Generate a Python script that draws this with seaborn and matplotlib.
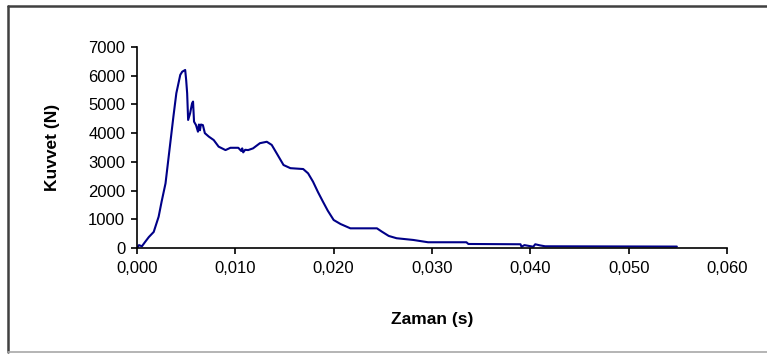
import matplotlib
matplotlib.use("Agg")
import matplotlib.pyplot as plt
from matplotlib.lines import Line2D
import seaborn as sns
import pandas as pd

# Impact force record: time (s) and force (N)
zaman = [0.0000, 0.0002, 0.0005, 0.0008, 0.0012, 0.0017, 0.0022, 0.0025, 0.0029, 0.0033,
         0.0037, 0.0040, 0.0044, 0.0046, 0.0049, 0.0050, 0.0051, 0.0052, 0.0054, 0.0056,
         0.0057, 0.0058, 0.0060, 0.0062, 0.0063, 0.0064, 0.0065, 0.0067, 0.0069, 0.0073,
         0.0078, 0.0083, 0.0090, 0.0095, 0.0103, 0.0106, 0.0107, 0.0108, 0.0110, 0.0113,
         0.0118, 0.0125, 0.0132, 0.0137, 0.0142, 0.0149, 0.0156, 0.0169, 0.0174, 0.0179,
         0.0184, 0.0189, 0.0194, 0.0200, 0.0207, 0.0217, 0.0244, 0.0249, 0.0256, 0.0264,
         0.0281, 0.0296, 0.0335, 0.0337, 0.0390, 0.0391, 0.0394, 0.0403, 0.0405, 0.0410,
         0.0415, 0.0549]
kuvvet = [0, 100, 60, 200, 380, 560, 1090, 1610, 2250, 3410,
          4570, 5390, 6030, 6140, 6200, 5850, 5390, 4460, 4690, 5040,
          5100, 4400, 4280, 4050, 4300, 4100, 4300, 4280, 4000, 3880,
          3760, 3530, 3410, 3490, 3490, 3380, 3470, 3330, 3420, 3410,
          3470, 3650, 3700, 3590, 3300, 2890, 2780, 2750, 2600, 2310,
          1950, 1620, 1300, 975, 835, 685, 685, 570, 420, 340,
          280, 200, 200, 140, 130, 45, 100, 45, 130, 90,
          60, 50]

x_ticks = [0.0, 0.01, 0.02, 0.03, 0.04, 0.05, 0.06]
x_tick_labels = ["0,000", "0,010", "0,020", "0,030", "0,040", "0,050", "0,060"]
y_ticks = [0, 1000, 2000, 3000, 4000, 5000, 6000, 7000]
y_tick_labels = ["0", "1000", "2000", "3000", "4000", "5000", "6000", "7000"]

df = pd.DataFrame({"Zaman": zaman, "Kuvvet": kuvvet})

sns.set_style("white")
plt.rcParams["font.family"] = ["Liberation Sans", "DejaVu Sans"]

fig = plt.figure(figsize=(7.67, 3.54), dpi=100)
ax = fig.add_axes([137 / 767, 1 - 248 / 354, 590 / 767, 201 / 354])

sns.lineplot(data=df, x="Zaman", y="Kuvvet", ax=ax, estimator=None, sort=False,
             color="#000088", linewidth=1.5)

ax.set_xlim(0, 0.06)
ax.set_ylim(0, 7000)
ax.set_xticks(x_ticks)
ax.set_xticklabels(x_tick_labels)
ax.set_yticks(y_ticks)
ax.set_yticklabels(y_tick_labels)

for side in ("top", "right"):
    ax.spines[side].set_visible(False)
for side in ("left", "bottom"):
    ax.spines[side].set_color("black")
    ax.spines[side].set_linewidth(1.2)

ax.tick_params(axis="both", direction="out", length=4.5, width=1.2, color="black",
               labelsize=12, labelcolor="black", bottom=True, left=True)
ax.tick_params(axis="x", pad=5)
ax.tick_params(axis="y", pad=4)

ax.set_xlabel("Zaman (s)", fontsize=12.5, fontweight="bold", labelpad=26, color="black")
ax.set_ylabel("Kuvvet (N)", fontsize=12.5, fontweight="bold", labelpad=20, color="black")

# outer chart frame
W, H = 767, 354
fig.add_artist(Line2D([8 / W, 8 / W], [1 - 6 / H, 1 - 352 / H], transform=fig.transFigure,
                      color="#404040", linewidth=1.8))
fig.add_artist(Line2D([8 / W, 1.0], [1 - 6 / H, 1 - 6 / H], transform=fig.transFigure,
                      color="#404040", linewidth=1.8))
fig.add_artist(Line2D([8 / W, 1.0], [1 - 352 / H, 1 - 352 / H], transform=fig.transFigure,
                      color="#a8a8a8", linewidth=1.2))

fig.savefig("out.png", dpi=100)
